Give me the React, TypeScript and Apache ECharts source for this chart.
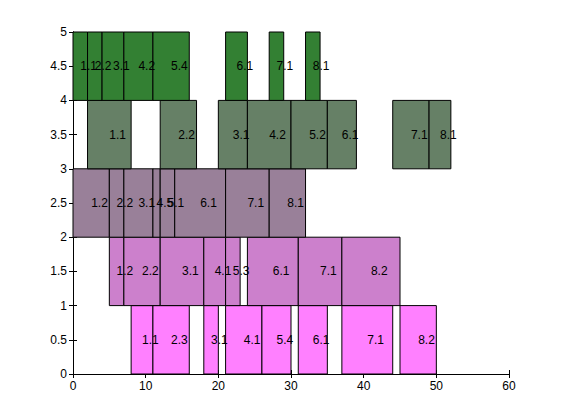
import React, { useEffect, useRef } from "react";
import * as echarts from "echarts";

// Row 0 (y 0–1)
const row0Starts = [8, 11, 18, 21, 26, 31, 37, 45];
const row0Ends = [11, 16, 20, 26, 30, 35, 44, 50];
const row0Labels = ["1.1", "2.3", "3.1", "4.1", "5.4", "6.1", "7.1", "8.2"];
// Row 1 (y 1–2)
const row1Starts = [5, 7, 12, 18, 21, 24, 31, 37];
const row1Ends = [7, 12, 18, 21, 23, 31, 37, 45];
const row1Labels = ["1.2", "2.2", "3.1", "4.1", "5.3", "6.1", "7.1", "8.2"];
// Row 2 (y 2–3)
const row2Starts = [0, 5, 7, 11, 12, 14, 21, 27];
const row2Ends = [5, 7, 11, 12, 14, 21, 27, 32];
const row2Labels = ["1.2", "2.2", "3.1", "4.5", "5.1", "6.1", "7.1", "8.1"];
// Row 3 (y 3–4)
const row3Starts = [2, 12, 20, 24, 30, 35, 44, 49];
const row3Ends = [8, 17, 24, 30, 35, 39, 49, 52];
const row3Labels = ["1.1", "2.2", "3.1", "4.2", "5.2", "6.1", "7.1", "8.1"];
// Row 4 (y 4–5)
const row4Starts = [0, 2, 4, 7, 11, 21, 27, 32];
const row4Ends = [2, 4, 7, 11, 16, 24, 29, 34];
const row4Labels = ["1.1", "2.2", "3.1", "4.2", "5.4", "6.1", "7.1", "8.1"];

const rowColors = ["#ff80ff", "#cc80cc", "#998099", "#668066", "#338033"];

const xTicks = [0, 10, 20, 30, 40, 50, 60];
const yTicks = [0, 0.5, 1, 1.5, 2, 2.5, 3, 3.5, 4, 4.5, 5];

const rows = [
  [row0Starts, row0Ends, row0Labels],
  [row1Starts, row1Ends, row1Labels],
  [row2Starts, row2Ends, row2Labels],
  [row3Starts, row3Ends, row3Labels],
  [row4Starts, row4Ends, row4Labels],
] as const;

export default function App() {
  const ref = useRef<HTMLDivElement>(null);
  useEffect(() => {
    if (!ref.current) return;
    const chart = echarts.init(ref.current, null, { renderer: "svg" });
    const items: { value: number[]; label: string }[] = [];
    rows.forEach(([s, e, l], r) => {
      s.forEach((v, i) => items.push({ value: [v, e[i], r], label: l[i] }));
    });
    const font = "Liberation Sans, Arial, sans-serif";
    const axisCommon = {
      axisLine: { show: true, lineStyle: { color: "#000", width: 1 } },
      axisTick: { show: true, inside: true, length: 4, lineStyle: { color: "#000" } },
      splitLine: { show: false },
    };
    chart.setOption({
      animation: false,
      backgroundColor: "#fff",
      grid: { left: 73, right: 52, top: 32, bottom: 46, containLabel: false },
      xAxis: [
        {
          type: "value", min: xTicks[0], max: xTicks[xTicks.length - 1], interval: 10,
          position: "bottom", ...axisCommon,
          axisLabel: { color: "#000", fontSize: 12, fontFamily: font, margin: 6 },
        },
        {
          type: "value", min: xTicks[0], max: xTicks[xTicks.length - 1], interval: 10,
          position: "top", ...axisCommon, axisLabel: { show: false },
        },
      ],
      yAxis: [
        {
          type: "value", min: yTicks[0], max: yTicks[yTicks.length - 1], interval: 0.5,
          position: "left", ...axisCommon,
          axisLabel: { color: "#000", fontSize: 12, fontFamily: font, margin: 6 },
        },
        {
          type: "value", min: yTicks[0], max: yTicks[yTicks.length - 1], interval: 0.5,
          position: "right", ...axisCommon, axisLabel: { show: false },
        },
      ],
      series: [
        {
          type: "custom",
          xAxisIndex: 0,
          yAxisIndex: 0,
          data: items.map((d) => d.value),
          renderItem: (params: any, api: any) => {
            const x0 = api.value(0);
            const x1 = api.value(1);
            const r = api.value(2);
            const p0 = api.coord([x0, r + 1]);
            const p1 = api.coord([x1, r]);
            const label = items[params.dataIndex].label;
            return {
              type: "group",
              children: [
                {
                  type: "rect",
                  shape: { x: p0[0], y: p0[1], width: p1[0] - p0[0], height: p1[1] - p0[1] },
                  style: { fill: rowColors[r], stroke: "#000", lineWidth: 1 },
                  z2: 1,
                },
                {
                  type: "text",
                  x: (p0[0] + p1[0]) / 2,
                  y: (p0[1] + p1[1]) / 2,
                  style: {
                    text: label, fill: "#000", font: `12px ${font}`,
                    align: "left", verticalAlign: "middle",
                  },
                  z2: 100,
                },
              ],
            };
          },
        },
      ],
    });
    return () => chart.dispose();
  }, []);
  return (
    <div
      ref={ref}
      style={{ position: "fixed", left: 0, top: 0, width: 561, height: 420, background: "#fff" }}
    />
  );
}
